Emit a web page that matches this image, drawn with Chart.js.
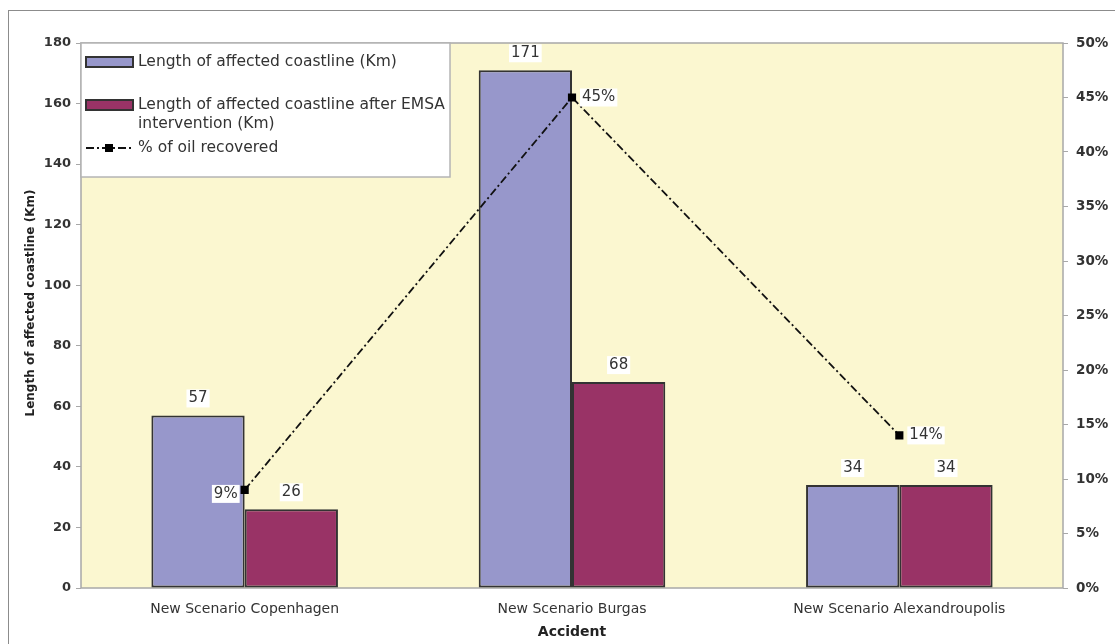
<!DOCTYPE html>
<html>
<head>
<meta charset="utf-8">
<script src="https://cdn.jsdelivr.net/npm/chart.js@4/dist/chart.umd.min.js"></script>
<style>
  html, body { margin: 0; padding: 0; background: #ffffff; }
  #wrap { position: relative; width: 1115px; height: 644px; }
</style>
</head>
<body>
<div id="wrap"><canvas id="c" width="1115" height="644"></canvas></div>
<script>
// Accident scenarios and their results
const categories = ['New Scenario Copenhagen', 'New Scenario Burgas', 'New Scenario Alexandroupolis'];
const coastlineKm = [57, 171, 34];
const coastlineAfterEmsaKm = [26, 68, 34];
const oilRecoveredPct = [9, 45, 14];

// Axis ranges
const lengthAxis = { min: 0, max: 180, step: 20 };
const pctAxis = { min: 0, max: 50, step: 5 };

const seriesNames = [
  'Length of affected coastline (Km)',
  ['Length of affected coastline after EMSA', 'intervention (Km)'],
  '% of oil recovered'
];
const yTitle = 'Length of affected coastline (Km)';
const xTitle = 'Accident';

const FONT = '"DejaVu Sans", Verdana, sans-serif';
const BLUE = '#9797cb';
const PLUM = '#993366';
const EDGE = '#333333';
const DASH = [8, 3, 2, 3];

// Frame, plot background and border
const backdrop = {
  id: 'backdrop',
  beforeDraw(chart) {
    const { ctx, chartArea: a } = chart;
    ctx.save();
    ctx.strokeStyle = '#8c8c8c';
    ctx.lineWidth = 1;
    ctx.strokeRect(8.5, 10.5, 1300, 800);
    ctx.fillStyle = '#fbf7d0';
    ctx.fillRect(a.left, a.top, a.right - a.left, a.bottom - a.top);
    ctx.strokeStyle = '#a8a8a8';
    ctx.lineWidth = 1.5;
    ctx.strokeRect(a.left, a.top, a.right - a.left, a.bottom - a.top);
    ctx.restore();
  }
};

function boxedText(ctx, text, x, y, align) {
  ctx.font = '15px ' + FONT;
  const w = ctx.measureText(text).width;
  let left = x - w / 2;
  if (align === 'left') left = x;
  if (align === 'right') left = x - w;
  ctx.fillStyle = '#ffffff';
  ctx.fillRect(left - 2, y - 9, w + 4, 18);
  ctx.fillStyle = '#333333';
  ctx.textAlign = 'left';
  ctx.textBaseline = 'middle';
  ctx.fillText(text, left, y);
}

// Value labels on bars and line points
const valueLabels = {
  id: 'valueLabels',
  afterDatasetsDraw(chart) {
    const { ctx } = chart;
    ctx.save();
    [0, 1].forEach(di => {
      const meta = chart.getDatasetMeta(di);
      meta.data.forEach((el, i) => {
        const v = chart.data.datasets[di].data[i];
        boxedText(ctx, String(v), el.x, el.y - 17, 'center');
      });
    });
    const lm = chart.getDatasetMeta(2);
    lm.data.forEach((el, i) => {
      const v = chart.data.datasets[2].data[i] + '%';
      if (i === 0) boxedText(ctx, v, el.x - 7, el.y + 4, 'right');
      else boxedText(ctx, v, el.x + 10, el.y, 'left');
    });
    ctx.restore();
  }
};

// Legend box, axis titles
const decorations = {
  id: 'decorations',
  afterDraw(chart) {
    const { ctx, chartArea: a } = chart;
    ctx.save();
    // legend
    const lx = a.left, ly = a.top, lw = 369, lh = 134;
    ctx.fillStyle = '#ffffff';
    ctx.fillRect(lx, ly, lw, lh);
    ctx.strokeStyle = '#b4b4b4';
    ctx.lineWidth = 1.5;
    ctx.strokeRect(lx, ly, lw, lh);

    ctx.font = '15.5px ' + FONT;
    ctx.textAlign = 'left';
    ctx.textBaseline = 'middle';

    const sw = (y, color) => {
      ctx.fillStyle = color;
      ctx.fillRect(86, y - 5, 47, 10);
      ctx.strokeStyle = EDGE;
      ctx.lineWidth = 2;
      ctx.strokeRect(86, y - 5, 47, 10);
    };
    sw(62, BLUE);
    ctx.fillStyle = '#333333';
    ctx.fillText(seriesNames[0], 138, 62);
    sw(105, PLUM);
    ctx.fillStyle = '#333333';
    ctx.fillText(seriesNames[1][0], 138, 105);
    ctx.fillText(seriesNames[1][1], 138, 124);
    ctx.strokeStyle = '#111111';
    ctx.lineWidth = 1.8;
    ctx.setLineDash(DASH);
    ctx.beginPath();
    ctx.moveTo(86, 148);
    ctx.lineTo(133, 148);
    ctx.stroke();
    ctx.setLineDash([]);
    ctx.fillStyle = '#000000';
    ctx.fillRect(105, 144, 8, 8);
    ctx.fillStyle = '#333333';
    ctx.fillText(seriesNames[2], 138, 148);

    // axis titles
    ctx.font = 'bold 12px ' + FONT;
    ctx.fillStyle = '#222222';
    ctx.textAlign = 'center';
    ctx.save();
    ctx.translate(31, 303);
    ctx.rotate(-Math.PI / 2);
    ctx.fillText(yTitle, 0, 0);
    ctx.restore();
    ctx.font = 'bold 14px ' + FONT;
    ctx.fillText(xTitle, (a.left + a.right) / 2, 632);
    ctx.restore();
  }
};

new Chart(document.getElementById('c'), {
  type: 'bar',
  data: {
    labels: categories,
    datasets: [
      {
        type: 'bar',
        label: seriesNames[0],
        data: coastlineKm,
        backgroundColor: BLUE,
        borderColor: EDGE,
        borderWidth: 2,
        borderSkipped: false,
        yAxisID: 'y',
        order: 2
      },
      {
        type: 'bar',
        label: seriesNames[1].join(' '),
        data: coastlineAfterEmsaKm,
        backgroundColor: PLUM,
        borderColor: EDGE,
        borderWidth: 2,
        borderSkipped: false,
        yAxisID: 'y',
        order: 2
      },
      {
        type: 'line',
        label: seriesNames[2],
        data: oilRecoveredPct,
        borderColor: '#111111',
        borderWidth: 1.8,
        borderDash: DASH,
        pointStyle: 'rect',
        pointRadius: 4.5,
        pointBackgroundColor: '#000000',
        pointBorderColor: '#000000',
        fill: false,
        tension: 0,
        yAxisID: 'y1',
        order: 0
      }
    ]
  },
  options: {
    responsive: false,
    animation: false,
    devicePixelRatio: 1,
    layout: { padding: { top: 43, left: 0, right: 0, bottom: 0 } },
    datasets: { bar: { barPercentage: 1, categoryPercentage: 0.57 } },
    plugins: { legend: { display: false }, tooltip: { enabled: false } },
    scales: {
      x: {
        offset: true,
        grid: { display: false, drawTicks: false },
        border: { display: false },
        ticks: { color: '#333333', font: { family: FONT, size: 14 }, padding: 13, maxRotation: 0 },
        afterFit(s) { s.height = 56; }
      },
      y: {
        position: 'left',
        min: lengthAxis.min, max: lengthAxis.max,
        grid: { drawOnChartArea: false, tickLength: 5, color: '#a8a8a8' },
        border: { display: false },
        ticks: { stepSize: lengthAxis.step, color: '#333333', font: { family: FONT, size: 13, weight: 'bold' }, padding: 5 },
        afterFit(s) { s.width = 81; }
      },
      y1: {
        position: 'right',
        min: pctAxis.min, max: pctAxis.max,
        grid: { drawOnChartArea: false, tickLength: 5, color: '#a8a8a8' },
        border: { display: false },
        ticks: { stepSize: pctAxis.step, color: '#333333', font: { family: FONT, size: 13.5, weight: 'bold' }, padding: 8, callback: v => v + '%' },
        afterFit(s) { s.width = 52; }
      }
    }
  },
  plugins: [backdrop, valueLabels, decorations]
});
</script>
</body>
</html>
